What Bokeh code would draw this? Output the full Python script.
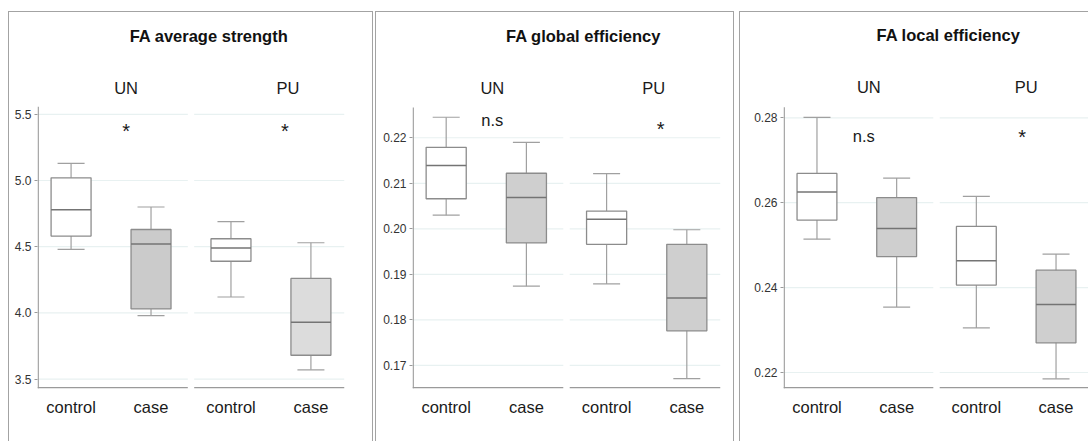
from bokeh.plotting import figure
from bokeh.models import (FactorRange, Range1d, FixedTicker, PrintfTickFormatter, Label,
                          Whisker, TeeHead, ColumnDataSource)
from bokeh.transform import dodge
from bokeh.layouts import row
from bokeh.embed import file_html
from bokeh.resources import INLINE

# ---------------- data ----------------
groups = ["UN", "UN", "PU", "PU"]
conditions = ["control", "case", "control", "case"]
titles = ["FA average strength", "FA global efficiency", "FA local efficiency"]

strength_lower = [4.48, 3.98, 4.12, 3.57]
strength_q1 = [4.58, 4.03, 4.39, 3.68]
strength_median = [4.78, 4.52, 4.49, 3.93]
strength_q3 = [5.02, 4.63, 4.56, 4.26]
strength_upper = [5.13, 4.80, 4.69, 4.53]

global_lower = [0.2030, 0.1874, 0.1879, 0.1671]
global_q1 = [0.2066, 0.1969, 0.1966, 0.1776]
global_median = [0.2139, 0.2069, 0.2021, 0.1848]
global_q3 = [0.2179, 0.2122, 0.2039, 0.1966]
global_upper = [0.2245, 0.2190, 0.2121, 0.1998]

local_lower = [0.2514, 0.2354, 0.2305, 0.2185]
local_q1 = [0.2559, 0.2473, 0.2406, 0.2270]
local_median = [0.2625, 0.2539, 0.2463, 0.2360]
local_q3 = [0.2669, 0.2612, 0.2544, 0.2441]
local_upper = [0.2801, 0.2658, 0.2615, 0.2479]

strength_ticks = [3.5, 4.0, 4.5, 5.0, 5.5]
global_ticks = [0.17, 0.18, 0.19, 0.20, 0.21, 0.22]
local_ticks = [0.22, 0.24, 0.26, 0.28]

significance_un = ["*", "n.s", "n.s"]
significance_pu = ["*", "*", "*"]

# ---------------- styling / layout ----------------
FONT = "Liberation Sans"
GRID = "#e8f1f1"
AXIS = "#9a9a9a"
BOXLINE = "#8c8c8c"
BORDER = "1px solid #a3a3a3"
RP = -0.08          # range padding of the categorical axis
GAP = 0.04          # half gap between facets (synthetic units)
HEIGHT = 430
CANVAS_H = HEIGHT - 1   # minus top border

panels = [
    dict(title=titles[0], lower=strength_lower, q1=strength_q1, q2=strength_median,
         q3=strength_q3, upper=strength_upper, ticks=strength_ticks, fmt="%.1f",
         ylim=(3.429, 5.557), axis_px=(94, 281), fills=["white", "#cbcbcb", "white", "#dcdcdc"],
         sig_un=significance_un[0], sig_pu=significance_pu[0],
         width=365, left=28, right=30, margin=(11, 0, 0, 8),
         title_dx=18, un_dx=15, pu_dx=17, sun_dx=15, spu_dx=14, sig_y=(5.376, 5.376),
         sig_size=("20px", "20px"), borders="lrt"),
    dict(title=titles[1], lower=global_lower, q1=global_q1, q2=global_median,
         q3=global_q3, upper=global_upper, ticks=global_ticks, fmt="%.2f",
         ylim=(0.16494, 0.22664), axis_px=(95, 281), fills=["white", "#cfcfcf", "white", "#cfcfcf"],
         sig_un=significance_un[1], sig_pu=significance_pu[1],
         width=359, left=36, right=15, margin=(11, 0, 0, 2),
         title_dx=17, un_dx=6, pu_dx=7, sun_dx=6, spu_dx=14, sig_y=(0.2238, 0.2220),
         sig_size=("16.5px", "20px"), borders="lrt"),
    dict(title=titles[2], lower=local_lower, q1=local_q1, q2=local_median,
         q3=local_q3, upper=local_upper, ticks=local_ticks, fmt="%.2f",
         ylim=(0.21623, 0.28248), axis_px=(95, 282), fills=["white", "#cfcfcf", "white", "#cfcfcf"],
         sig_un=significance_un[2], sig_pu=significance_pu[2],
         width=349, left=43, right=0, margin=(11, 0, 0, 5),
         title_dx=12, un_dx=12, pu_dx=10, sun_dx=7, spu_dx=6, sig_y=(0.2757, 0.2754),
         sig_size=("16.5px", "20px"), borders="lt"),
]

factors = list(zip(groups, conditions))

figs = []
for cfg in panels:
    lo, hi = cfg["ylim"]
    top_px, axis_h = cfg["axis_px"]          # px from canvas top to axis top, axis height
    px = (hi - lo) / axis_h                   # data units per pixel
    frame_h = top_px + axis_h
    y_top = hi + top_px * px                  # frame extends up to the canvas top
    bottom = CANVAS_H - frame_h

    xr = FactorRange(*factors, factor_padding=0.0, group_padding=0.0,
                     range_padding=RP, range_padding_units="absolute")
    p = figure(x_range=xr, y_range=Range1d(lo, y_top), width=cfg["width"], height=HEIGHT,
               output_backend="svg", toolbar_location=None, title=None,
               min_border_left=cfg["left"], min_border_right=cfg["right"],
               min_border_top=0, min_border_bottom=bottom)
    p.outline_line_color = None
    p.background_fill_color = "white"
    p.border_fill_color = "white"
    p.xgrid.visible = False
    p.ygrid.visible = False
    p.margin = cfg["margin"]
    css = {}
    for side, key in (("l", "border-left"), ("r", "border-right"), ("t", "border-top")):
        if side in cfg["borders"]:
            css[key] = BORDER
    p.styles = css

    frame_w = cfg["width"] - len([c for c in cfg["borders"] if c in "lr"]) - cfg["left"] - cfg["right"]
    x_start, x_mid, x_end = -RP, 2.0, 4.0 + RP
    xpx = (x_end - x_start) / frame_w
    facets = [(x_start, x_mid - GAP), (x_mid + GAP, x_end)]

    # gridlines per facet
    gx0, gx1, gy = [], [], []
    for t in cfg["ticks"]:
        for a, b in facets:
            gx0.append(a); gx1.append(b); gy.append(t)
    p.segment(x0=gx0, x1=gx1, y0=gy, y1=gy, line_color=GRID, line_width=1.2, level="image")
    # facet base lines and y axis line
    base = lo + 0.7 * px
    p.segment(x0=[f[0] for f in facets], x1=[f[1] for f in facets], y0=[base, base],
              y1=[base, base], line_color=AXIS, line_width=1.4)
    p.segment(x0=[x_start + 0.7 * xpx], x1=[x_start + 0.7 * xpx], y0=[lo], y1=[hi],
              line_color=AXIS, line_width=1.3)

    src = ColumnDataSource(dict(x=factors, lower=cfg["lower"], q1=cfg["q1"], q2=cfg["q2"],
                                q3=cfg["q3"], upper=cfg["upper"], fill=cfg["fills"]))
    wh = Whisker(base="x", upper="upper", lower="lower", source=src, dimension="height",
                 line_color="#a0a0a0", line_width=1.2, level="underlay",
                 upper_head=TeeHead(size=27, line_color="#a0a0a0", line_width=1.2),
                 lower_head=TeeHead(size=27, line_color="#a0a0a0", line_width=1.2))
    p.add_layout(wh)
    p.vbar(x="x", width=0.5, bottom="q1", top="q3", fill_color="fill",
           line_color=BOXLINE, line_width=1.3, source=src)
    p.segment(x0=dodge("x", -0.25, range=xr), x1=dodge("x", 0.25, range=xr),
              y0="q2", y1="q2", line_color="#747474", line_width=1.5, source=src)

    # y axis (ticks and labels; its line is drawn above only over the data part)
    ya = p.yaxis[0]
    ya.ticker = FixedTicker(ticks=cfg["ticks"])
    ya.formatter = PrintfTickFormatter(format=cfg["fmt"])
    ya.axis_line_color = None
    ya.major_tick_line_color = AXIS
    ya.major_tick_out = 3
    ya.major_tick_in = 0
    ya.minor_tick_line_color = None
    ya.major_label_standoff = 3
    ya.major_label_text_font = FONT
    ya.major_label_text_font_size = "12px"
    ya.major_label_text_color = "#333333"

    # x axis
    xa = p.xaxis[0]
    xa.axis_line_color = None
    xa.major_tick_line_color = None
    xa.major_tick_out = 0
    xa.major_tick_in = 0
    xa.minor_tick_line_color = None
    xa.separator_line_color = None
    xa.major_label_standoff = 9
    xa.major_label_text_font = FONT
    xa.major_label_text_font_size = "16.5px"
    xa.major_label_text_color = "#1a1a1a"
    xa.group_text_color = None
    xa.group_text_font_size = "1px"
    xa.group_label_orientation = "horizontal"

    # title and facet labels (placed in the empty upper part of the frame)
    title_y = hi + (top_px - 23) * px
    strip_y = hi + (top_px - 75) * px
    p.add_layout(Label(x=2.0, y=title_y, x_offset=cfg["title_dx"],
                       text=cfg["title"], text_align="center", text_baseline="middle",
                       text_font=FONT, text_font_style="bold", text_font_size="16.5px",
                       text_color="#111111"))
    for gx, dx, name in ((1.0, cfg["un_dx"], "UN"), (3.0, cfg["pu_dx"], "PU")):
        p.add_layout(Label(x=gx, y=strip_y, x_offset=dx,
                           text=name, text_align="center", text_baseline="middle",
                           text_font=FONT, text_font_size="16.5px", text_color="#1a1a1a"))
    for gx, dx, txt, yy, fs in ((1.0, cfg["sun_dx"], cfg["sig_un"], cfg["sig_y"][0], cfg["sig_size"][0]),
                                (3.0, cfg["spu_dx"], cfg["sig_pu"], cfg["sig_y"][1], cfg["sig_size"][1])):
        p.add_layout(Label(x=gx, y=yy, x_offset=dx, text=txt, text_align="center",
                           text_baseline="middle", text_font=FONT, text_font_size=fs,
                           text_color="#1a1a1a"))
    figs.append(p)

layout = row(*figs, spacing=0)
open("out.html", "w").write(file_html(layout, INLINE))
